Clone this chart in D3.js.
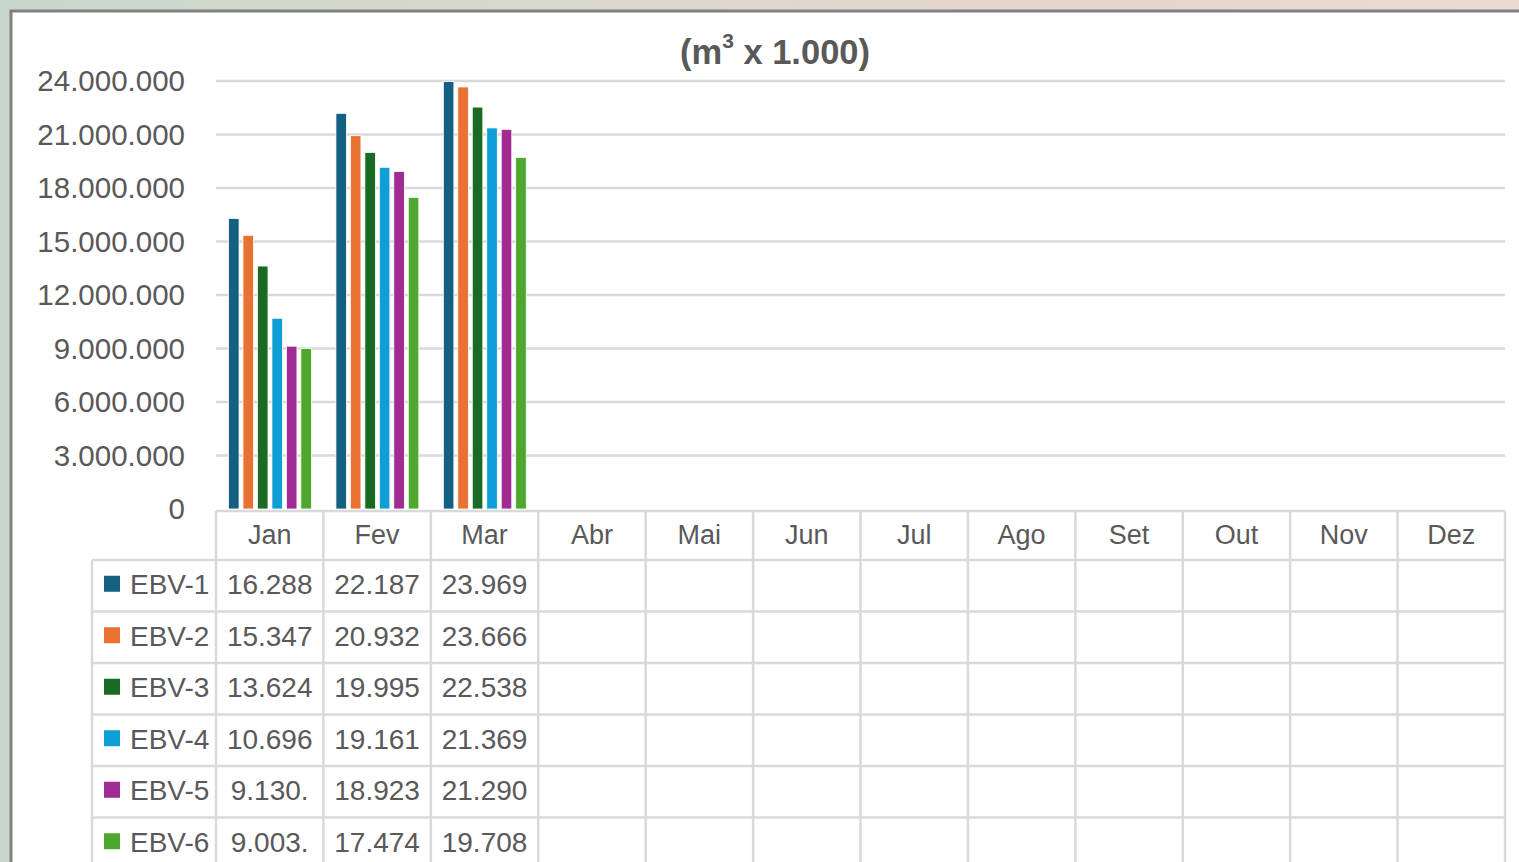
<!DOCTYPE html>
<html>
<head>
<meta charset="utf-8">
<script src="https://cdn.jsdelivr.net/npm/d3@7"></script>
<style>
  html, body { margin: 0; padding: 0; background: #d6dad4; }
  svg { display: block; }
  text { font-family: "Liberation Sans", Arial, sans-serif; fill: #595959; }
</style>
</head>
<body>
<svg id="chart" width="1519" height="862"></svg>
<script>
// ---------------- data ----------------
const categories = ["Jan", "Fev", "Mar", "Abr", "Mai", "Jun", "Jul", "Ago", "Set", "Out", "Nov", "Dez"];
const series = ["EBV-1", "EBV-2", "EBV-3", "EBV-4", "EBV-5", "EBV-6"];
const ebv1 = [16288000, 22187000, 23969000];
const ebv2 = [15347000, 20932000, 23666000];
const ebv3 = [13624000, 19995000, 22538000];
const ebv4 = [10696000, 19161000, 21369000];
const ebv5 = [9130000, 18923000, 21290000];
const ebv6 = [9003000, 17474000, 19708000];
const seriesValues = [ebv1, ebv2, ebv3, ebv4, ebv5, ebv6];
const colors = ["#156082", "#E97132", "#196B24", "#0F9ED5", "#A02B93", "#4EA72E"];
const yTicks = [0, 3000000, 6000000, 9000000, 12000000, 15000000, 18000000, 21000000, 24000000];
const titleMain = "(m";
const titleSup = "3";
const titleRest = " x 1.000)";

// ---------------- setup ----------------
const W = 1519, H = 862;
const svg = d3.select("#chart");
const fmt = v => d3.format(",")(v).replace(/,/g, ".");
const cellText = v => fmt(v).slice(0, 6);   // data table cells truncate to cell width

// background (blurred photo behind the panel)
const defs = svg.append("defs");
const bg = defs.append("linearGradient").attr("id", "bg").attr("x1", 0).attr("x2", 1).attr("y1", 0).attr("y2", 0);
bg.append("stop").attr("offset", "0%").attr("stop-color", "#c9d6cc");
bg.append("stop").attr("offset", "35%").attr("stop-color", "#d8d8cf");
bg.append("stop").attr("offset", "70%").attr("stop-color", "#e6d6cb");
bg.append("stop").attr("offset", "100%").attr("stop-color", "#e8dcd2");
svg.append("rect").attr("width", W).attr("height", H).attr("fill", "url(#bg)");

// white panel
svg.append("rect")
  .attr("x", 11).attr("y", 11).attr("width", W + 20).attr("height", H + 20)
  .attr("fill", "#ffffff").attr("stroke", "#808080").attr("stroke-width", 3);

// scales
const x = d3.scaleBand().domain(categories).range([216, 1505]).padding(0);
const x1 = d3.scaleBand().domain(series).range([12.5, x.bandwidth() - 12]).paddingInner(0.27).paddingOuter(0);
const y = d3.scaleLinear().domain([0, 24000000]).range([509, 81]);

// gridlines
svg.append("g").selectAll("line").data(yTicks.filter(t => t > 0)).join("line")
  .attr("x1", 216).attr("x2", 1505)
  .attr("y1", d => y(d)).attr("y2", d => y(d))
  .attr("stroke", "#d9d9d9").attr("stroke-width", 2.5);

// y axis labels
const yAxis = d3.axisLeft(y).tickValues(yTicks).tickFormat(fmt).tickSize(0).tickPadding(0);
const gy = svg.append("g").attr("transform", "translate(185,0)").call(yAxis);
gy.select(".domain").remove();
gy.selectAll("text").attr("font-size", 29.5).attr("fill", "#595959")
  .attr("font-family", "Liberation Sans, Arial, sans-serif").attr("dy", "0.33em");

// bars
const barData = [];
series.forEach((s, i) => {
  seriesValues[i].forEach((v, j) => {
    if (v != null) barData.push({ s, i, cat: categories[j], v });
  });
});
svg.append("g").selectAll("rect").data(barData).join("rect")
  .attr("x", d => x(d.cat) + x1(d.s))
  .attr("width", x1.bandwidth())
  .attr("y", d => y(d.v))
  .attr("height", d => y(0) - y(d.v))
  .attr("fill", d => colors[d.i])
  .attr("stroke", "#ffffff").attr("stroke-width", 0.8);

// title
const title = svg.append("text").attr("x", 775).attr("y", 64)
  .attr("text-anchor", "middle").attr("font-size", 34.5).attr("font-weight", "bold");
title.append("tspan").text(titleMain);
title.append("tspan").attr("font-size", 21).attr("dy", -16).text(titleSup);
title.append("tspan").attr("dy", 16).text(titleRest);

// ---------------- data table ----------------
const tableTop = 511, headerH = 49, rowH = 51.5, legendLeft = 92;
const rowTop = i => tableTop + headerH + i * rowH;
const grid = svg.append("g").attr("stroke", "#d9d9d9").attr("stroke-width", 2.5);
// horizontal lines
grid.append("line").attr("x1", 216).attr("x2", 1505).attr("y1", tableTop).attr("y2", tableTop);
series.forEach((s, i) => {
  grid.append("line").attr("x1", legendLeft).attr("x2", 1505).attr("y1", rowTop(i)).attr("y2", rowTop(i));
});
grid.append("line").attr("x1", legendLeft).attr("x2", 1505).attr("y1", rowTop(6)).attr("y2", rowTop(6));
// vertical lines
const colEdges = categories.map(c => x(c)).concat([x(categories[11]) + x.bandwidth()]);
grid.selectAll(".v").data(colEdges).join("line").attr("class", "v")
  .attr("x1", d => d).attr("x2", d => d).attr("y1", tableTop).attr("y2", H + 10);
grid.append("line").attr("x1", legendLeft).attr("x2", legendLeft).attr("y1", rowTop(0)).attr("y2", H + 10);

// month headers
svg.append("g").selectAll("text").data(categories).join("text")
  .attr("x", d => x(d) + x.bandwidth() / 2)
  .attr("y", tableTop + headerH / 2)
  .attr("dy", "0.3em").attr("text-anchor", "middle").attr("font-size", 27)
  .text(d => d);

// legend keys + names
const leg = svg.append("g").selectAll("g").data(series).join("g")
  .attr("transform", (d, i) => `translate(0,${rowTop(i) + rowH / 2})`);
leg.append("rect").attr("x", 104).attr("y", -10).attr("width", 16).attr("height", 16)
  .attr("fill", (d, i) => colors[i]);
leg.append("text").attr("x", 130).attr("dy", "0.3em").attr("font-size", 28).text(d => d);

// cell values
series.forEach((s, i) => {
  svg.append("g").selectAll("text").data(seriesValues[i]).join("text")
    .attr("x", (d, j) => x(categories[j]) + x.bandwidth() / 2)
    .attr("y", rowTop(i) + rowH / 2)
    .attr("dy", "0.3em").attr("text-anchor", "middle").attr("font-size", 28)
    .text(d => cellText(d));
});
</script>
</body>
</html>
